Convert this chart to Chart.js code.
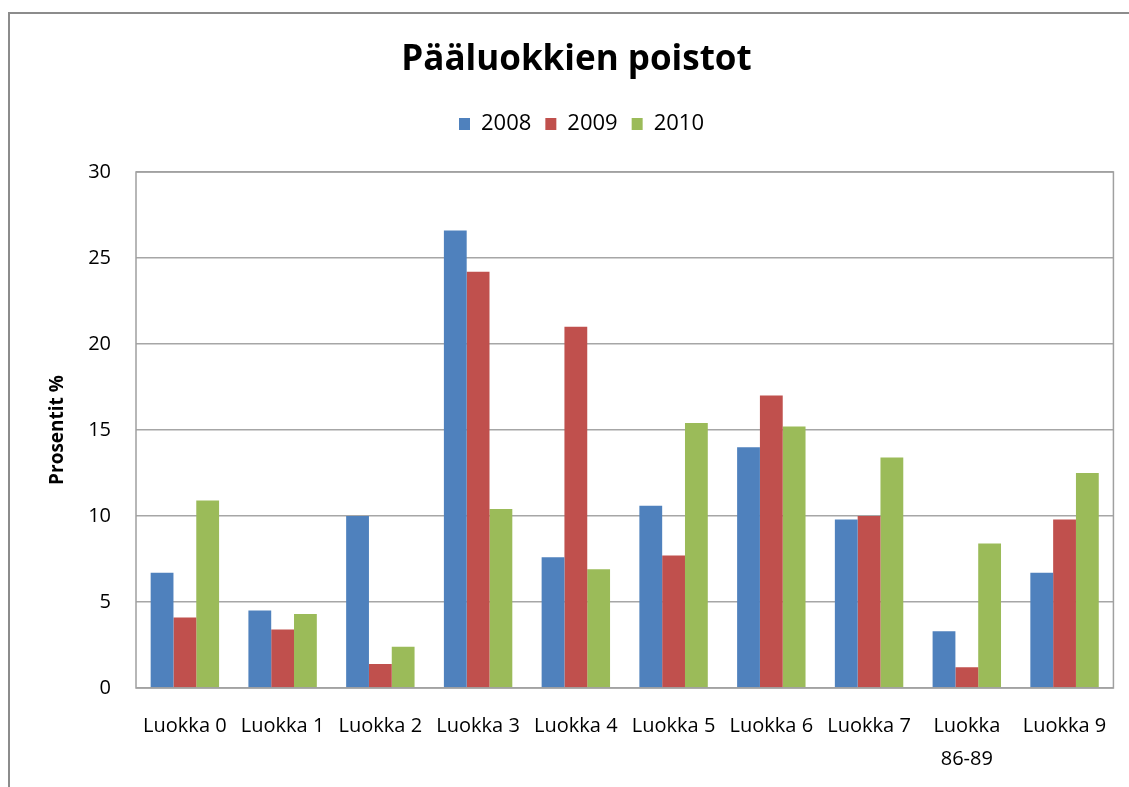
<!DOCTYPE html>
<html>
<head>
<meta charset="utf-8">
<script src="https://cdn.jsdelivr.net/npm/chart.js@4/dist/chart.umd.min.js"></script>
<style>
  html, body { margin: 0; padding: 0; background: #fff; overflow: hidden; }
  #frame { position: absolute; left: 8px; top: 12px; width: 1200px; height: 900px;
           border-left: 2px solid #8c8c8c; border-top: 2px solid #8c8c8c; }
  #wrap { position: absolute; left: 0; top: 0; width: 1129px; height: 787px; }
</style>
</head>
<body>
<div id="frame"></div>
<div id="wrap"><canvas id="poistotChart"></canvas></div>
<script>
// data
const categories = ['Luokka 0', 'Luokka 1', 'Luokka 2', 'Luokka 3', 'Luokka 4',
                    'Luokka 5', 'Luokka 6', 'Luokka 7', ['Luokka', '86-89'], 'Luokka 9'];
const years = ['2008', '2009', '2010'];
const values2008 = [6.7, 4.5, 10.0, 26.6, 7.6, 10.6, 14.0, 9.8, 3.3, 6.7];
const values2009 = [4.1, 3.4, 1.4, 24.2, 21.0, 7.7, 17.0, 10.0, 1.2, 9.8];
const values2010 = [10.9, 4.3, 2.4, 10.4, 6.9, 15.4, 15.2, 13.4, 8.4, 12.5];
const yTicks = [0, 5, 10, 15, 20, 25, 30];

const colors = ['#4F81BD', '#C0504D', '#9BBB59'];
const font = "'Open Sans', 'Liberation Sans', sans-serif";

// box around the plot area
const plotFrame = {
    id: 'plotFrame',
    afterDraw(chart) {
        const a = chart.chartArea;
        const c = chart.ctx;
        c.save();
        c.strokeStyle = '#a0a0a0';
        c.lineWidth = 1.5;
        c.strokeRect(a.left, a.top, a.right - a.left, a.bottom - a.top);
        c.restore();
    }
};

// push the plot down below the legend, nudge title and legend right a bit
const legendGap = {
    id: 'legendGap',
    beforeInit(chart) {
        const fit = chart.legend.fit;
        chart.legend.fit = function () {
            fit.bind(chart.legend)();
            this.height = 73;
        };
    },
    afterLayout(chart) {
        chart.legend.left += 9;
        chart.legend.right += 9;
        chart.titleBlock.left += 4;
        chart.titleBlock.right += 4;
    }
};

Chart.defaults.font.family = font;
Chart.defaults.color = '#000';

new Chart(document.getElementById('poistotChart'), {
    type: 'bar',
    data: {
        labels: categories,
        datasets: [values2008, values2009, values2010].map((vals, i) => ({
            label: years[i],
            data: vals,
            backgroundColor: colors[i],
            borderWidth: 0,
            categoryPercentage: 0.7,
            barPercentage: 1.0
        }))
    },
    options: {
        responsive: true,
        maintainAspectRatio: false,
        animation: false,
        layout: { padding: { top: 12, left: 30, right: 14, bottom: 0 } },
        plugins: {
            title: {
                display: true,
                text: 'Pääluokkien poistot',
                font: { size: 35, weight: 'bold' },
                color: '#000',
                padding: { top: 27, bottom: 18 }
            },
            legend: {
                display: true,
                labels: {
                    boxWidth: 11,
                    boxHeight: 12,
                    font: { size: 22 },
                    padding: 14,
                    color: '#000'
                }
            },
            tooltip: { enabled: false }
        },
        scales: {
            x: {
                grid: { display: false, drawTicks: false },
                border: { display: false },
                ticks: {
                    font: { size: 20, lineHeight: 1.65 },
                    padding: 22,
                    maxRotation: 0,
                    autoSkip: false
                },
                afterFit(scale) { scale.height = 99; }
            },
            y: {
                min: 0,
                max: 30,
                afterBuildTicks(scale) { scale.ticks = yTicks.map(v => ({ value: v })); },
                grid: { color: '#a6a6a6', lineWidth: 1.5, drawTicks: false },
                border: { display: false },
                ticks: { font: { size: 20 }, padding: 25 },
                title: {
                    display: true,
                    text: 'Prosentit %',
                    font: { size: 19, weight: 'bold' },
                    padding: { top: 16, bottom: 0 }
                },
                afterFit(scale) { scale.width = 106; }
            }
        }
    },
    plugins: [plotFrame, legendGap]
});
</script>
</body>
</html>
